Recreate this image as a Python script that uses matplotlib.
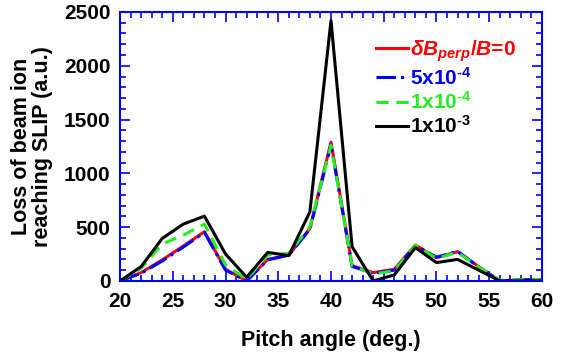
import numpy as np
import matplotlib.pyplot as plt
from matplotlib.ticker import MultipleLocator

plt.rcParams['font.family'] = ['Liberation Sans', 'DejaVu Sans']
plt.rcParams['font.weight'] = 'bold'
plt.rcParams['mathtext.fontset'] = 'custom'
plt.rcParams['mathtext.rm'] = 'Liberation Sans:bold'
plt.rcParams['mathtext.it'] = 'Liberation Sans:bold:italic'
plt.rcParams['mathtext.bf'] = 'Liberation Sans:bold'

pitch = np.arange(20, 61, 2)
loss_0 = [0, 77, 195, 324, 457, 108, 0, 200, 240, 488, 1290, 142, 77, 108,
          333, 216, 272, 133, 0, 10, 10]
loss_5e4 = [0, 70, 185, 315, 450, 100, 0, 195, 240, 480, 1265, 135, 70, 100,
            330, 220, 275, 130, 0, 10, 10]
loss_1e4 = [0, 117, 343, 426, 528, 148, 15, 240, 256, 503, 1260, 142, 65, 93,
            333, 210, 265, 130, 5, 10, 10]
loss_1e3 = [0, 133, 395, 528, 602, 250, 34, 265, 235, 642, 2420, 318, 0, 55,
            309, 170, 200, 100, 0, 0, 0]
labels = [r'$\delta B_{perp}/B$=0', r'5x10$^{\text{-4}}$',
          r'1x10$^{\text{-4}}$', r'1x10$^{\text{-3}}$']

fig = plt.figure(figsize=(5.61, 3.52), dpi=100)
ax = fig.add_axes([0.214, 0.202, 0.752, 0.764])

ax.plot(pitch, loss_0, color='red', lw=2.2, label=labels[0])
ax.plot(pitch, loss_5e4, color='blue', lw=2.2, ls='-.', label=labels[1])
ax.plot(pitch, loss_1e4, color='#22ee22', lw=2.2, ls=(0, (4, 2.5)), label=labels[2])
ax.plot(pitch, loss_1e3, color='black', lw=2.2, label=labels[3])

ax.set_xlim(20, 60)
ax.set_ylim(0, 2500)
ax.xaxis.set_major_locator(MultipleLocator(5))
ax.xaxis.set_minor_locator(MultipleLocator(1))
ax.yaxis.set_major_locator(MultipleLocator(500))
ax.yaxis.set_minor_locator(MultipleLocator(100))
ax.tick_params(which='both', direction='in', top=True, right=True,
               color='blue', labelsize=15, width=1.2)
ax.tick_params(which='major', length=7)
ax.tick_params(which='minor', length=4)
ax.tick_params(axis='x', pad=8)
ax.tick_params(axis='y', pad=7)
for sp in ax.spines.values():
    sp.set_color('blue')
    sp.set_linewidth(1.5)

# the "0" on the y axis hangs below the axis, as in the original
ax.yaxis.get_major_ticks()[0].label1.set_va('top')

ax.set_xlabel('Pitch angle (deg.)', fontsize=15.5, fontweight='bold', labelpad=14)
ax.set_ylabel('Loss of beam ion\nreaching SLIP (a.u.)', fontsize=15.5,
              fontweight='bold', labelpad=8, linespacing=0.95)

leg = ax.legend(loc='upper right', bbox_to_anchor=(0.963, 0.94), frameon=False,
                fontsize=15, handlelength=1.55, handletextpad=0.1,
                labelspacing=0.12, borderpad=0)
for txt, line in zip(leg.get_texts(), leg.get_lines()):
    txt.set_color(line.get_color())

fig.savefig('out.png', dpi=100)
